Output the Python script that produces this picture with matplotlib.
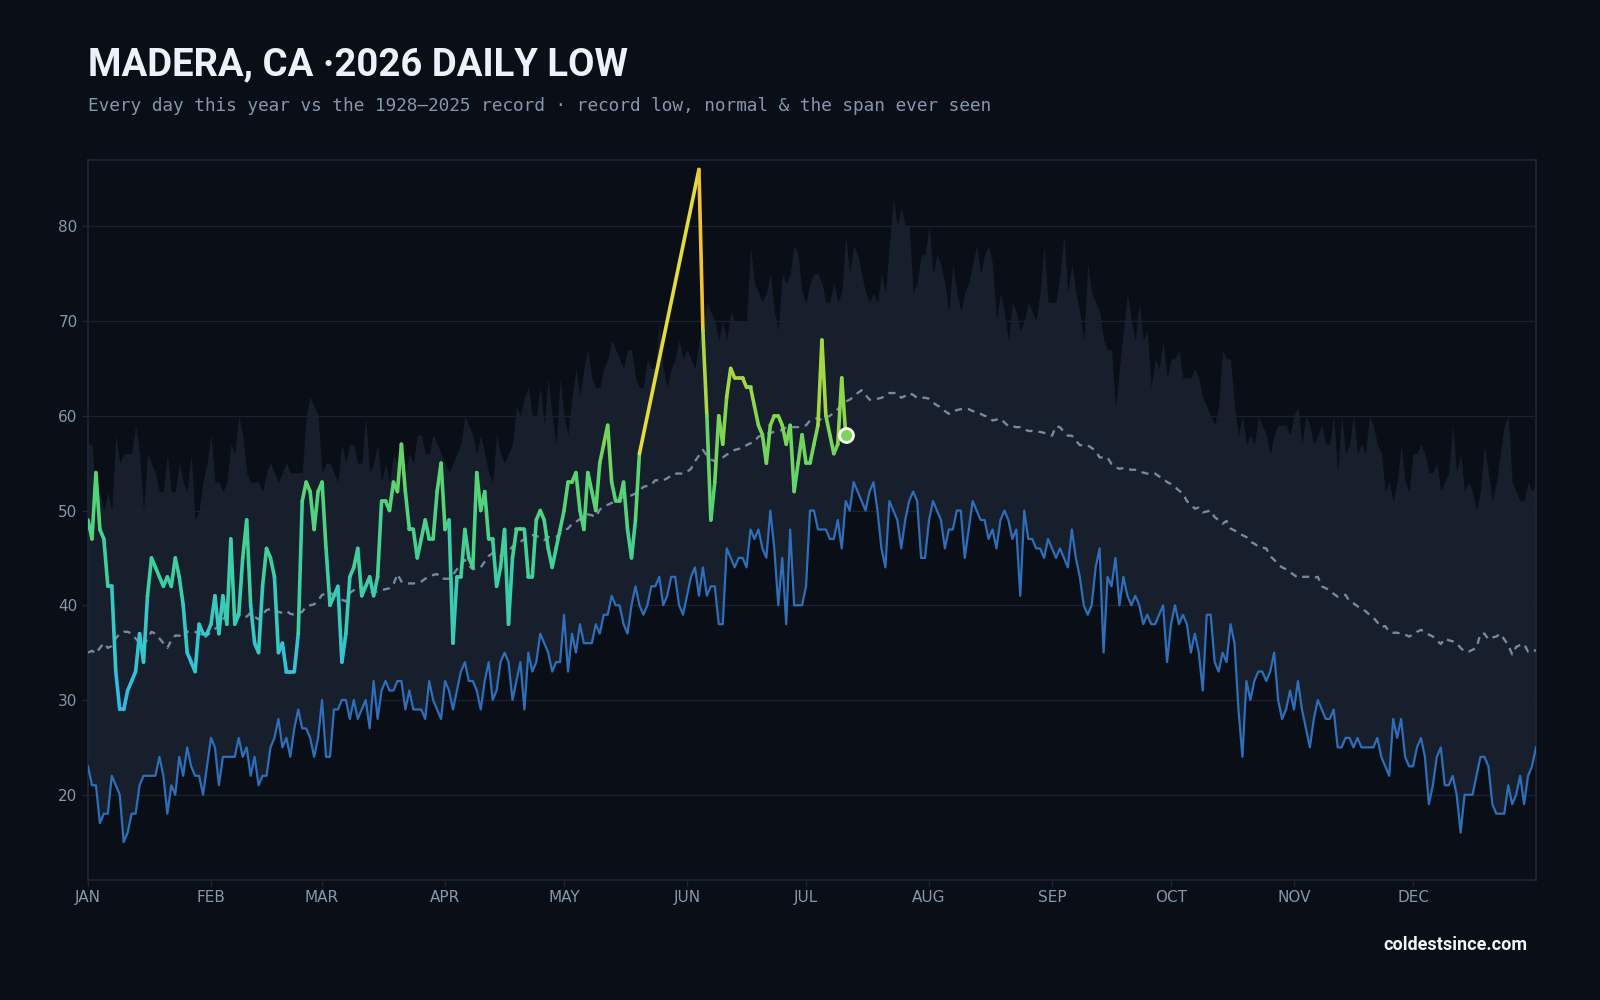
import numpy as np
import matplotlib.pyplot as plt
from matplotlib.collections import LineCollection
from matplotlib.colors import LinearSegmentedColormap, Normalize

# day 0 = Jan 1, values in degrees F
record_low = [
    23, 21, 21, 17, 18, 18, 22, 21, 20, 15,
    16, 18, 18, 21, 22, 22, 22, 22, 24, 22,
    18, 21, 20, 24, 22, 25, 23, 22, 22, 20,
    23, 26, 25, 21, 24, 24, 24, 24, 26, 24,
    25, 22, 24, 21, 22, 22, 25, 26, 28, 25,
    26, 24, 27, 29, 27, 27, 26, 24, 26, 30,
    24, 24, 29, 29, 30, 30, 28, 30, 28, 29,
    30, 27, 32, 28, 31, 32, 31, 31, 32, 32,
    29, 31, 29, 29, 29, 28, 32, 30, 29, 28,
    32, 31, 29, 31, 33, 34, 32, 32, 31, 29,
    32, 34, 30, 31, 34, 35, 34, 30, 32, 34,
    29, 35, 33, 34, 37, 36, 35, 33, 34, 34,
    39, 33, 37, 35, 38, 36, 36, 36, 38, 37,
    39, 39, 41, 40, 40, 38, 37, 40, 42, 40,
    39, 40, 42, 42, 43, 40, 41, 43, 43, 40,
    39, 41, 43, 44, 41, 44, 41, 42, 42, 38,
    38, 46, 45, 44, 45, 45, 44, 48, 47, 48,
    46, 45, 50, 46, 40, 45, 38, 48, 40, 40,
    40, 42, 50, 50, 48, 48, 48, 47, 47, 49,
    46, 51, 50, 53, 52, 51, 50, 52, 53, 50,
    46, 44, 51, 50, 49, 46, 49, 51, 52, 51,
    45, 45, 49, 51, 50, 49, 46, 48, 48, 50,
    50, 45, 48, 51, 50, 49, 49, 47, 48, 46,
    49, 50, 49, 47, 48, 41, 50, 47, 47, 46,
    46, 45, 47, 46, 45, 46, 45, 44, 48, 45,
    43, 40, 39, 40, 44, 46, 35, 43, 42, 45,
    40, 43, 41, 40, 41, 40, 38, 39, 38, 38,
    39, 40, 34, 38, 40, 38, 39, 38, 35, 37,
    35, 31, 39, 39, 34, 33, 35, 34, 38, 36,
    29, 24, 32, 30, 32, 33, 33, 32, 33, 35,
    30, 28, 29, 31, 29, 32, 29, 27, 25, 28,
    30, 29, 28, 28, 29, 25, 25, 26, 26, 25,
    26, 25, 25, 25, 25, 26, 24, 23, 22, 28,
    26, 28, 24, 23, 23, 25, 26, 24, 19, 21,
    24, 25, 21, 21, 22, 20, 16, 20, 20, 20,
    22, 24, 24, 23, 19, 18, 18, 18, 21, 19,
    20, 22, 19, 22, 23, 25,
]

# warmest low ever seen for each day (top of the shaded span)
record_high = [
    57, 57, 51, 52, 50, 52, 50, 58, 55, 56,
    56, 56, 59, 56, 50, 56, 55, 54, 52, 52,
    56, 52, 52, 55, 53, 52, 56, 49, 50, 53,
    55, 58, 53, 53, 52, 53, 57, 56, 60, 58,
    54, 53, 53, 53, 52, 54, 55, 54, 53, 54,
    55, 54, 54, 54, 54, 60, 62, 61, 60, 54,
    55, 55, 54, 53, 57, 55, 57, 57, 55, 55,
    60, 54, 55, 57, 53, 55, 53, 56, 55, 55,
    54, 56, 55, 58, 58, 56, 56, 58, 57, 56,
    55, 54, 55, 56, 57, 60, 59, 58, 56, 58,
    56, 54, 53, 58, 56, 55, 56, 57, 61, 60,
    62, 63, 60, 60, 63, 59, 64, 60, 57, 64,
    60, 58, 62, 65, 62, 65, 67, 64, 63, 63,
    65, 66, 68, 67, 66, 65, 67, 67, 64, 63,
    63, 66, 65, 65, 70, 65, 63, 65, 66, 68,
    66, 67, 66, 65, 68, 69, 72, 71, 70, 68,
    70, 68, 71, 70, 70, 70, 70, 78, 74, 73,
    72, 73, 75, 71, 69, 75, 74, 75, 78, 77,
    73, 72, 74, 75, 75, 74, 72, 72, 74, 72,
    73, 79, 75, 78, 77, 75, 73, 72, 73, 72,
    75, 73, 78, 83, 80, 82, 80, 80, 73, 74,
    77, 77, 80, 75, 77, 76, 74, 71, 76, 73,
    71, 73, 74, 76, 78, 75, 77, 78, 76, 70,
    73, 71, 68, 72, 71, 69, 70, 72, 71, 70,
    73, 78, 72, 72, 72, 75, 79, 73, 76, 73,
    71, 68, 76, 73, 72, 71, 68, 67, 67, 61,
    65, 69, 73, 70, 68, 72, 68, 69, 63, 66,
    65, 68, 64, 66, 66, 67, 64, 64, 64, 65,
    64, 62, 61, 60, 59, 61, 67, 66, 66, 61,
    58, 60, 57, 58, 57, 60, 59, 58, 56, 58,
    59, 59, 59, 58, 60, 61, 57, 60, 59, 57,
    58, 59, 57, 57, 60, 54, 60, 56, 57, 60,
    56, 57, 56, 60, 59, 57, 56, 52, 53, 51,
    53, 57, 53, 52, 56, 56, 57, 56, 54, 54,
    55, 52, 53, 54, 59, 54, 56, 52, 53, 52,
    50, 52, 57, 54, 51, 53, 56, 59, 60, 53,
    52, 51, 51, 53, 52, 53,
]

normal_low = [
    35.0, 35.2, 34.9, 35.5, 36.0, 35.5, 35.7, 36.5, 37.0, 37.2,
    37.2, 37.0, 36.5, 36.0, 35.7, 36.5, 37.2, 37.0, 36.5, 36.0,
    35.5, 36.3, 36.8, 36.8, 36.5, 37.2, 37.3, 37.2, 37.0, 36.5,
    36.8, 37.2, 37.5, 37.8, 38.5, 39.0, 39.2, 39.0, 39.0, 38.8,
    38.8, 39.2, 38.8, 38.5, 39.0, 39.5, 39.6, 39.5, 39.3, 39.2,
    39.4, 39.1, 39.0, 39.2, 39.3, 39.9, 40.0, 40.1, 40.5, 41.1,
    41.2, 41.3, 41.1, 40.9, 40.6, 40.4, 41.3, 41.6, 42.0, 41.9,
    41.8, 41.5, 41.3, 41.5, 41.6, 41.7, 41.8, 42.2, 43.3, 42.5,
    42.3, 42.3, 42.3, 42.4, 42.5, 42.8, 43.0, 43.2, 43.3, 42.8,
    42.8, 42.8, 43.2, 43.8, 44.3, 44.8, 44.2, 43.8, 43.9, 44.0,
    44.6, 45.2, 45.5, 45.3, 45.2, 45.4, 45.7, 46.2, 46.4, 46.7,
    47.0, 47.2, 47.4, 47.3, 47.2, 46.9, 47.2, 47.2, 47.2, 47.6,
    47.9, 48.1, 48.6, 48.8, 49.1, 49.3, 49.6, 49.5, 49.3, 50.1,
    50.4, 50.6, 50.8, 51.0, 51.3, 51.4, 51.5, 51.6, 51.8, 52.1,
    52.5, 52.6, 52.7, 53.2, 53.2, 53.2, 53.4, 53.7, 53.9, 53.9,
    53.9, 54.1, 54.4, 55.2, 55.8, 56.4, 55.8, 55.4, 55.2, 55.4,
    55.6, 55.9, 56.1, 56.4, 56.5, 56.6, 56.9, 57.1, 57.3, 57.8,
    57.9, 58.1, 58.2, 58.3, 58.4, 58.5, 58.8, 58.8, 58.8, 58.8,
    58.9, 59.0, 59.5, 59.6, 59.8, 59.5, 59.8, 60.0, 60.3, 60.7,
    61.2, 61.5, 61.7, 62.0, 62.4, 62.7, 62.2, 61.7, 61.7, 61.8,
    61.9, 62.1, 62.4, 62.4, 62.4, 61.9, 62.1, 62.4, 62.2, 61.9,
    61.9, 61.9, 61.8, 61.4, 61.1, 60.9, 60.5, 60.2, 60.5, 60.6,
    60.7, 60.7, 60.7, 60.5, 60.3, 60.2, 60.0, 59.9, 59.5, 59.6,
    59.7, 59.3, 58.9, 58.9, 58.8, 58.8, 58.6, 58.4, 58.4, 58.3,
    58.3, 58.2, 58.1, 57.9, 58.9, 58.8, 58.3, 57.9, 57.9, 57.4,
    56.9, 56.9, 56.9, 56.6, 56.3, 55.6, 55.6, 55.6, 54.9, 54.6,
    54.4, 54.5, 54.4, 54.3, 54.3, 54.1, 54.0, 53.9, 53.9, 53.9,
    53.6, 53.4, 53.0, 52.8, 52.5, 52.1, 51.8, 51.0, 50.6, 50.2,
    50.3, 49.8, 49.9, 50.0, 49.3, 49.0, 48.6, 48.9, 48.1, 47.9,
    47.6, 47.4, 47.2, 46.7, 46.5, 46.2, 46.1, 46.0, 45.2, 44.8,
    44.3, 44.0, 43.8, 43.5, 43.2, 42.9, 43.0, 43.0, 43.0, 42.9,
    43.0, 42.0, 41.8, 41.6, 41.2, 40.9, 41.0, 41.1, 40.4, 40.2,
    39.9, 39.6, 39.4, 39.0, 38.7, 38.2, 37.7, 37.8, 37.2, 37.1,
    37.1, 37.0, 36.9, 36.7, 36.9, 37.2, 37.4, 37.2, 36.9, 36.7,
    36.3, 35.9, 36.5, 36.3, 36.2, 36.0, 35.5, 35.1, 35.1, 35.3,
    35.5, 37.0, 37.0, 36.4, 36.6, 36.7, 37.0, 36.4, 35.8, 34.8,
    35.6, 35.8, 35.9, 35.1, 35.3, 35.2,
]

# 2026 so far; None = no report that day
this_year = [
    49, 47, 54, 48, 47, 42, 42, 33, 29, 29,
    31, 32, 33, 37, 34, 41, 45, 44, 43, 42,
    43, 42, 45, 43, 40, 35, 34, 33, 38, 37,
    37, 38, 41, 37, 41, 38, 47, 38, 39, 45,
    49, 40, 36, 35, 42, 46, 45, 43, 35, 36,
    33, 33, 33, 37, 51, 53, 52, 48, 52, 53,
    46, 40, 41, 42, 34, 37, 43, 44, 46, 41,
    42, 43, 41, 43, 51, 51, 50, 53, 52, 57,
    52, 48, 48, 45, 47, 49, 47, 47, 52, 55,
    48, 49, 36, 43, 43, 48, 45, 44, 54, 50,
    52, 47, 47, 42, 44, 48, 38, 45, 48, 48,
    48, 43, 43, 49, 50, 49, 46, 44, 46, 48,
    50, 53, 53, 54, 50, 48, 54, 52, 50, 55,
    57, 59, 53, 51, 51, 53, 48, 45, 49, 56,
    None, None, None, None, None, None, None, None, None, None,
    None, None, None, None, 86, 69, 60, 49, 53, 60,
    57, 62, 65, 64, 64, 64, 63, 63, 61, 59,
    58, 55, 59, 60, 60, 59, 57, 59, 52, 55,
    58, 55, 55, 57, 59, 68, 60, 58, 56, 57,
    64, 58,
]

month_starts = [0, 31, 59, 90, 120, 151, 181, 212, 243, 273, 304, 334]
month_labels = ["JAN", "FEB", "MAR", "APR", "MAY", "JUN",
                "JUL", "AUG", "SEP", "OCT", "NOV", "DEC"]
y_ticks = [20, 30, 40, 50, 60, 70, 80]

# value -> colour ramp for this year's line
ramp_temps = [28, 36, 44, 52, 60, 66, 71, 78, 86]
ramp_colors = ["#35b4ec", "#35c6cf", "#3fcf9e", "#58d474", "#86d64e",
               "#b6d83e", "#e3dc3c", "#f3bf36", "#f49b32"]

BG = "#0a0e16"
BAND = "#161f2b"
GRID = "#18212e"
SPINE = "#1c2738"
TICK = "#8497ad"
BLUE = "#2f6eb8"
NORMAL = "#7689a0"

lo, hi = ramp_temps[0], ramp_temps[-1]
cmap = LinearSegmentedColormap.from_list(
    "lows", [((t - lo) / (hi - lo), c) for t, c in zip(ramp_temps, ramp_colors)])
norm = Normalize(lo, hi)

fig = plt.figure(figsize=(16, 10), dpi=100, facecolor=BG)
ax = fig.add_axes([0.055, 0.12, 0.905, 0.72], facecolor=BG)

days = np.arange(len(record_low))
ax.fill_between(days, record_low, record_high, color=BAND, lw=0, zorder=1)
ax.plot(days, normal_low, color=NORMAL, lw=1.7, ls=(0, (3, 2.5)), zorder=3)
ax.plot(days, record_low, color=BLUE, lw=1.6, zorder=3)

yr = np.array([np.nan if v is None else v for v in this_year], dtype=float)
yd = np.arange(len(yr))
ok = ~np.isnan(yr)
xd, yv = yd[ok], yr[ok]
pts = np.column_stack([xd, yv])
segs = np.stack([pts[:-1], pts[1:]], axis=1)
lc = LineCollection(segs, cmap=cmap, norm=norm, linewidths=2.6,
                    capstyle="round", joinstyle="round", zorder=4)
lc.set_array((yv[:-1] + yv[1:]) / 2)
ax.add_collection(lc)
ax.plot(xd[-1], yv[-1], "o", ms=10, mfc=cmap(norm(yv[-1])), mec="white",
        mew=2, zorder=5)

ax.set_xlim(0, 365)
ax.set_ylim(11, 87)
ax.set_xticks(month_starts)
ax.set_xticklabels(month_labels)
ax.set_yticks(y_ticks)
ax.grid(axis="y", color=GRID, lw=1)
ax.set_axisbelow(False)
for gl in ax.get_ygridlines():
    gl.set_zorder(1.5)
for s in ax.spines.values():
    s.set_color(SPINE)
    s.set_linewidth(1.2)
ax.tick_params(colors=SPINE, labelcolor=TICK, labelsize=11, length=4, width=1)

fig.text(0.055, 0.9245, "MADERA, CA \u00b72026 DAILY LOW", ha="left", va="baseline",
         fontsize=27.5, fontweight="bold", color="#eef2f8", family=["Roboto", "DejaVu Sans"])
fig.text(0.055, 0.894,
         "Every day this year vs the 1928\u20132025 record \u00b7 record low, normal & the span ever seen",
         ha="left", va="center", fontsize=12.75, color="#8597ad", family="DejaVu Sans Mono")
fig.text(0.955, 0.055, "coldestsince.com", ha="right", va="center",
         fontsize=13, fontweight="bold", color="#f2f5fa", family=["Roboto", "DejaVu Sans"])

fig.savefig("out.png", dpi=100, facecolor=BG)
